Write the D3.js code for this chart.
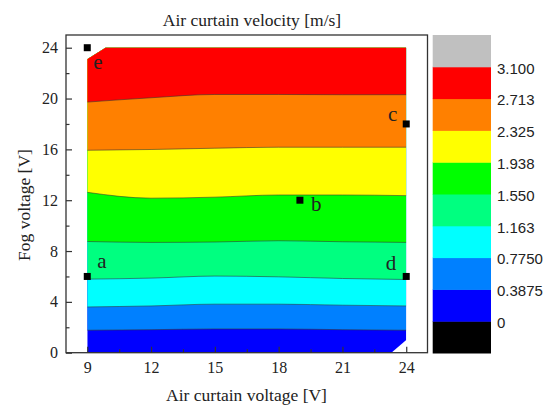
<!DOCTYPE html>
<html>
<head>
<meta charset="utf-8">
<script src="https://cdn.jsdelivr.net/npm/d3@7"></script>
<style>
  body { margin: 0; background: #fff; }
  svg text { font-family: "Times New Roman", "Liberation Serif", serif; fill: #222; }
  .legend text { font-family: Arial, "Liberation Sans", sans-serif; }
</style>
</head>
<body>
<svg width="552" height="408"></svg>
<script>
// air curtain voltage where the contour lines were read
const xVals = [9, 12, 15, 18, 21, 24];

// fog voltage of each contour line (one array per velocity level)
const line0388 = [1.77, 1.81, 1.87, 1.87, 1.81, 1.77];
const line0775 = [3.60, 3.68, 3.82, 3.82, 3.74, 3.68];
const line1163 = [5.79, 5.87, 6.03, 5.97, 5.84, 5.76];
const line1550 = [8.75, 8.68, 8.71, 8.81, 8.73, 8.68];
const line1938 = [12.62, 12.16, 12.24, 12.41, 12.41, 12.36];
const line2325 = [15.93, 15.99, 16.09, 16.17, 16.17, 16.17];
const line2713 = [19.72, 20.06, 20.32, 20.32, 20.30, 20.30];
const contourLines = [line0388, line0775, line1163, line1550, line1938, line2325, line2713];

// outline of the measured area (corners are cut off)
const hullX = [9, 23.3, 24, 24, 9.86, 9];
const hullY = [0, 0, 1.0, 24, 24, 23.1];

const bandColors = ["#0000ff", "#0080ff", "#00ffff", "#00ff80", "#00ff00", "#ffff00", "#ff8000", "#ff0000"];
const legendColors = ["#000000"].concat(bandColors, ["#c0c0c0"]);
const legendLabels = ["0", "0.3875", "0.7750", "1.163", "1.550", "1.938", "2.325", "2.713", "3.100"];

// measuring points
const pointNames = ["a", "b", "c", "d", "e"];
const pointX = [9, 19, 24, 24, 9];
const pointY = [6, 12, 18, 6, 24];

const xTicks = [9, 12, 15, 18, 21, 24];
const yTicks = [0, 4, 8, 12, 16, 20, 24];

// label offsets (px) from each point
const labelPos = {
    a: { dx: 10, dy: -8, anchor: "start" },
    b: { dx: 11, dy: 11, anchor: "start" },
    c: { dx: -9, dy: -3, anchor: "end" },
    d: { dx: -10, dy: -6, anchor: "end" },
    e: { dx: 6, dy: 21, anchor: "start" }
};

const svg = d3.select("svg");

const x = d3.scaleLinear().domain([8, 25]).range([66, 427.5]);
const y = d3.scaleLinear().domain([0, 25]).range([352.7, 35]);

// clip to the measured area
const hull = hullX.map((v, i) => [x(v), y(hullY[i])]);
svg.append("clipPath").attr("id", "hull")
    .append("path").attr("d", "M" + hull.join("L") + "Z");

const plot = svg.append("g").attr("clip-path", "url(#hull)");

// each band is painted from its lower line up to the top, bottom first
for (let i = 0; i < bandColors.length; i++) {
    const lower = i == 0 ? null : contourLines[i - 1];
    const pts = xVals.map((v, j) => ({ x: v, lo: lower ? lower[j] : 0 }));
    const area = d3.area()
        .x(d => x(d.x))
        .y0(d => y(d.lo))
        .y1(y(24.5))
        .curve(d3.curveMonotoneX);
    plot.append("path")
        .datum(pts)
        .attr("fill", bandColors[i])
        .attr("d", area);
}

const line = d3.line().x(d => x(d.x)).y(d => y(d.v)).curve(d3.curveMonotoneX);
contourLines.forEach(arr => {
    plot.append("path")
        .datum(xVals.map((v, j) => ({ x: v, v: arr[j] })))
        .attr("fill", "none")
        .attr("stroke", "#333")
        .attr("stroke-opacity", 0.7)
        .attr("stroke-width", 0.8)
        .attr("d", line);
});

// frame
svg.append("rect")
    .attr("x", x(8)).attr("y", y(25))
    .attr("width", x(25) - x(8)).attr("height", y(0) - y(25))
    .attr("fill", "none").attr("stroke", "#333").attr("stroke-width", 1.3);

// axes, ticks pointing inward
const xAxis = svg.append("g").attr("transform", "translate(0," + y(0) + ")")
    .call(d3.axisBottom(x).tickValues(xTicks).tickSize(-6).tickPadding(9));
svg.append("g").attr("transform", "translate(0," + y(0) + ")")
    .call(d3.axisBottom(x).tickValues([10.5, 13.5, 16.5, 19.5, 22.5]).tickSize(-3.5).tickFormat(""));
const yAxis = svg.append("g").attr("transform", "translate(" + x(8) + ",0)")
    .call(d3.axisLeft(y).tickValues(yTicks).tickSize(-6).tickPadding(8));
svg.append("g").attr("transform", "translate(" + x(8) + ",0)")
    .call(d3.axisLeft(y).tickValues([2, 6, 10, 14, 18, 22]).tickSize(-3.5).tickFormat(""));

svg.selectAll(".domain").remove();
svg.selectAll(".tick line").attr("stroke", "#333").attr("stroke-width", 1.2);
svg.selectAll(".tick text").style("font-size", "16px").attr("fill", "#222");

// points and labels
const pts = pointNames.map((n, i) => ({ name: n, x: pointX[i], y: pointY[i] }));
svg.selectAll(".pt").data(pts).enter().append("rect")
    .attr("x", d => x(d.x) - 3.5)
    .attr("y", d => y(d.y) - 3.5)
    .attr("width", 7).attr("height", 7)
    .attr("fill", "#000");
svg.selectAll(".ptlabel").data(pts).enter().append("text")
    .attr("x", d => x(d.x) + labelPos[d.name].dx)
    .attr("y", d => y(d.y) + labelPos[d.name].dy)
    .attr("text-anchor", d => labelPos[d.name].anchor)
    .style("font-size", "21px")
    .attr("fill", "#000")
    .text(d => d.name);

// titles
svg.append("text").attr("x", 252).attr("y", 26)
    .attr("text-anchor", "middle").style("font-size", "17.5px")
    .text("Air curtain velocity [m/s]");
svg.append("text").attr("x", 246.5).attr("y", 400.5)
    .attr("text-anchor", "middle").style("font-size", "17.5px")
    .text("Air curtain voltage [V]");
svg.append("text")
    .attr("transform", "translate(30,205) rotate(-90)")
    .attr("text-anchor", "middle").style("font-size", "17.5px")
    .text("Fog voltage [V]");

// color scale legend
const legY = d3.scaleBand().domain(d3.range(legendColors.length)).range([353, 35]);
const legend = svg.append("g").attr("class", "legend");
legend.selectAll("rect").data(legendColors).enter().append("rect")
    .attr("x", 432.7)
    .attr("y", (d, i) => legY(i))
    .attr("width", 58.3)
    .attr("height", legY.bandwidth() + 0.5)
    .attr("fill", d => d);
legend.selectAll("text").data(legendLabels).enter().append("text")
    .attr("x", 497)
    .attr("y", (d, i) => legY(i) + 1.5)
    .attr("dy", "0.35em")
    .style("font-size", "15px")
    .attr("fill", "#111")
    .text(d => d);
</script>
</body>
</html>
